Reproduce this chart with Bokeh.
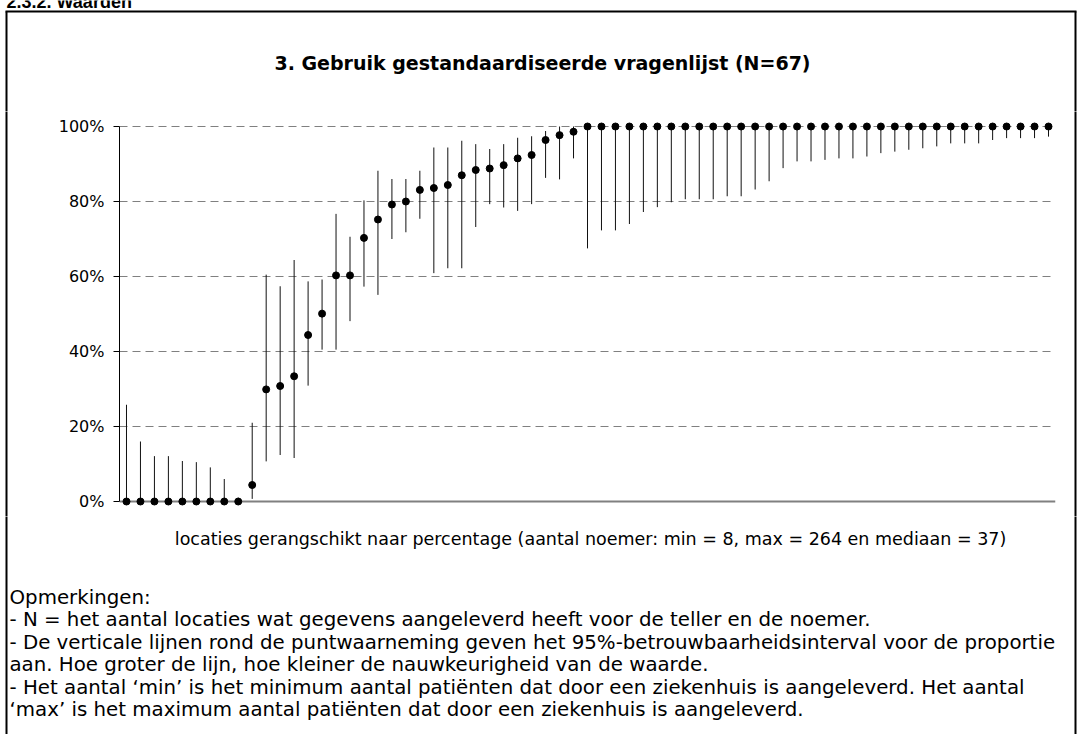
from bokeh.plotting import figure
from bokeh.layouts import column, row
from bokeh.models import FixedTicker, Range1d
from bokeh.core.properties import value
from bokeh.embed import file_html
from bokeh.resources import INLINE

# ---- data (percentages) ----
locations = list(range(1, 68))
values = [0, 0, 0, 0, 0, 0, 0, 0, 0, 4.4,
          29.9, 30.8, 33.4, 44.4, 50.1, 60.3, 60.3, 70.3, 75.2, 79.2,
          80.0, 83.1, 83.6, 84.4, 87.0, 88.4, 88.8, 89.7, 91.5, 92.4,
          96.4, 97.7, 98.6] + [100] * 34
lower = [0, 0, 0, 0, 0, 0, 0, 0, 0, 0.7,
         10.7, 12.4, 11.6, 30.9, 40.5, 40.5, 48.1, 57.3, 55.1, 70.0,
         71.8, 75.4, 60.9, 62.2, 62.2, 73.2, 79.3, 78.4, 77.5, 79.3,
         86.3, 85.9, 91.5, 67.5, 72.3, 72.3, 74.0, 77.2, 78.5, 79.8,
         80.6, 80.6, 80.6, 81.4, 81.4, 83.2, 85.4, 88.9, 90.7, 90.7,
         91.1, 91.5, 91.5, 92.0, 92.9, 93.3, 93.8, 94.2, 94.7, 95.5,
         95.5, 95.5, 96.4, 96.9, 96.9, 96.9, 97.3]
upper = [25.8, 16.0, 12.1, 12.1, 10.8, 10.5, 9.1, 6.0, 1.0, 21.0,
         60.5, 57.4, 64.4, 58.7, 59.2, 76.7, 70.6, 80.3, 88.2, 86.0,
         86.0, 88.2, 94.4, 94.4, 96.2, 95.3, 94.0, 95.3, 97.0, 97.4,
         98.8, 100, 100] + [100] * 34
y_ticks = [0, 20, 40, 60, 80, 100]
y_tick_labels = ["0%", "20%", "40%", "60%", "80%", "100%"]

heading_text = "2.3.2. Waarden"
title_text = "3. Gebruik gestandaardiseerde vragenlijst (N=67)"
xlabel_text = ("locaties gerangschikt naar percentage (aantal noemer: min = 8, "
               "max = 264 en mediaan = 37)")
notes = [
    "Opmerkingen:",
    "- N = het aantal locaties wat gegevens aangeleverd heeft voor de teller en de noemer.",
    "- De verticale lijnen rond de puntwaarneming geven het 95%-betrouwbaarheidsinterval voor de proportie",
    "aan. Hoe groter de lijn, hoe kleiner de nauwkeurigheid van de waarde.",
    "- Het aantal \u2018min\u2019 is het minimum aantal pati\u00ebnten dat door een ziekenhuis is aangeleverd. Het aantal",
    "\u2018max\u2019 is het maximum aantal pati\u00ebnten dat door een ziekenhuis is aangeleverd.",
]

TEXT_FONT = "DejaVu Sans"
BORDER_L, BORDER_R, BORDER_T = 6, 1075, 11
TOTAL_W = 1080
TOP_H = 111
CHART_H = 405
NOTES_H = 218
STRIP_W = 10


def canvas_fig(w, h, y_top):
    """A figure whose frame is the whole canvas, in page-pixel coordinates."""
    f = figure(width=w, height=h, output_backend="svg", toolbar_location=None,
               x_range=Range1d(0, w), y_range=Range1d(y_top + h, y_top),
               x_axis_location=None, y_axis_location=None,
               min_border=0)
    f.grid.visible = False
    f.outline_line_color = None
    f.background_fill_color = "white"
    f.border_fill_color = "white"
    return f


# ---- top: heading, title, top of box ----
top = canvas_fig(TOTAL_W, TOP_H, 0)
top.text(x=[6], y=[1], text=[heading_text], text_font=value("Liberation Sans"),
         text_font_size="18px", text_font_style="bold",
         text_baseline="middle", text_align="left", text_color="black")
top.text(x=[542], y=[62], text=[title_text], text_font=value(TEXT_FONT),
         text_font_size="19px", text_font_style="bold",
         text_baseline="middle", text_align="center", text_color="black")
top.segment(x0=[BORDER_L - 1, BORDER_L, BORDER_R], y0=[BORDER_T, BORDER_T, BORDER_T],
            x1=[BORDER_R + 1, BORDER_L, BORDER_R], y1=[BORDER_T, TOP_H + 5, TOP_H + 5],
            line_color="black", line_width=2)

# ---- side strips with the box's vertical lines ----
strip_l = canvas_fig(STRIP_W, CHART_H, 0)
strip_l.segment(x0=[BORDER_L], y0=[-5], x1=[BORDER_L], y1=[CHART_H + 5],
                line_color="black", line_width=2)
strip_r = canvas_fig(STRIP_W, CHART_H, 0)
strip_r.segment(x0=[BORDER_R - (TOTAL_W - STRIP_W)], y0=[-5],
                x1=[BORDER_R - (TOTAL_W - STRIP_W)], y1=[CHART_H + 5],
                line_color="black", line_width=2)

# ---- chart ----
N = len(locations)
FRAME_W = 936
CH_W = TOTAL_W - 2 * STRIP_W
LEFT = 119 - STRIP_W
p = figure(width=CH_W, height=CHART_H, output_backend="svg", toolbar_location=None,
           x_range=Range1d(0.5, N + 0.5), y_range=Range1d(-4, 104),
           x_axis_location=None,
           frame_width=FRAME_W, frame_height=CHART_H,
           min_border_left=LEFT, min_border_right=CH_W - LEFT - FRAME_W,
           min_border_top=0, min_border_bottom=0)
p.outline_line_color = None
p.background_fill_color = "white"
p.border_fill_color = "white"

p.xgrid.visible = False
p.yaxis.ticker = FixedTicker(ticks=y_ticks)
p.yaxis.major_label_overrides = {t: l for t, l in zip(y_ticks, y_tick_labels)}
p.yaxis.bounds = (0, 100)
p.yaxis.axis_line_color = "black"
p.yaxis.axis_line_width = 1
p.yaxis.major_tick_in = 0
p.yaxis.major_tick_out = 6
p.yaxis.major_tick_line_color = "black"
p.yaxis.minor_tick_line_color = None
p.yaxis.major_label_standoff = 9
p.yaxis.major_label_text_font = TEXT_FONT
p.yaxis.major_label_text_font_size = "16px"
p.yaxis.major_label_text_color = "black"

p.ygrid.ticker = FixedTicker(ticks=y_ticks[1:])
p.ygrid.grid_line_color = "#808080"
p.ygrid.grid_line_dash = "8 5"
p.ygrid.grid_line_width = 1

p.line(x=[0.5, N + 0.5], y=[0, 0], line_color="#808080", line_width=2)
p.segment(x0=locations, y0=lower, x1=locations, y1=upper,
          line_color="#111111", line_width=1)
p.scatter(x=locations, y=values, size=7, fill_color="black", line_color="black")

# ---- x label and notes ----
y0_notes = TOP_H + CHART_H
bottom = canvas_fig(TOTAL_W, NOTES_H, y0_notes)
bottom.text(x=[590], y=[538], text=[xlabel_text], text_font=value(TEXT_FONT),
            text_font_size="17.5px", text_baseline="middle", text_align="center",
            text_color="black")
bottom.text(x=[9] * len(notes), y=[597 + 22.4 * i for i in range(len(notes))],
            text=notes, text_font=value(TEXT_FONT), text_font_size="19.8px",
            text_baseline="middle", text_align="left", text_color="black")
bottom.segment(x0=[BORDER_L, BORDER_R], y0=[y0_notes - 5, y0_notes - 5],
               x1=[BORDER_L, BORDER_R], y1=[y0_notes + NOTES_H, y0_notes + NOTES_H],
               line_color="black", line_width=2)

layout = column(top,
                row(column(strip_l, margin=0), p, column(strip_r, margin=0), margin=0),
                bottom, margin=0)
open("out.html", "w").write(file_html(layout, INLINE))
